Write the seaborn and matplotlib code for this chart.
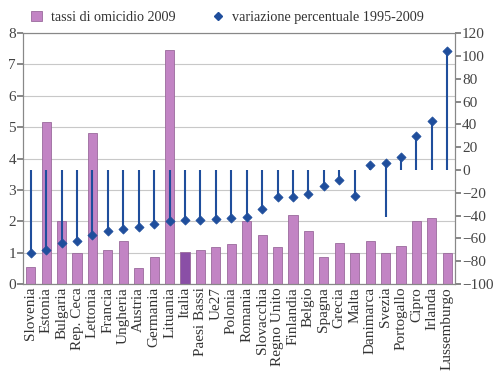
import pandas as pd
import seaborn as sns
import matplotlib.pyplot as plt
from matplotlib.patches import Patch
from matplotlib.lines import Line2D

# Dati
paesi = ["Slovenia", "Estonia", "Bulgaria", "Rep. Ceca", "Lettonia", "Francia",
         "Ungheria", "Austria", "Germania", "Lituania", "Italia", "Paesi Bassi",
         "Ue27", "Polonia", "Romania", "Slovacchia", "Regno Unito", "Finlandia",
         "Belgio", "Spagna", "Grecia", "Malta", "Danimarca", "Svezia",
         "Portogallo", "Cipro", "Irlanda", "Lussemburgo"]
tassi_2009 = [0.55, 5.18, 2.0, 1.0, 4.8, 1.1, 1.38, 0.5, 0.88, 7.45, 1.02, 1.08,
              1.17, 1.27, 2.0, 1.57, 1.18, 2.2, 1.68, 0.87, 1.3, 1.0, 1.38, 1.0,
              1.2, 2.0, 2.1, 1.0]
variazione = [-73, -70, -64, -62, -57, -53, -52, -50, -47, -45, -44, -44,
              -43, -42, -41, -34, -24, -24, -21, -14, -9, -23, 4, 6,
              11, 30, 43, 104]
# origine delle linee verticali (Svezia parte da -41)
origine = [0] * 23 + [-41] + [0] * 4

df = pd.DataFrame({"paese": paesi, "tasso": tassi_2009,
                   "var": variazione, "orig": origine})

col_bar = "#c284c4"
col_italia = "#8a4fa6"
col_blu = "#1f4e9c"

sns.set_theme(style="white")
plt.rcParams["font.family"] = ["Liberation Serif", "DejaVu Serif"]

fig = plt.figure(figsize=(5, 3.84), dpi=100)
ax = fig.add_axes([0.046, 0.26, 0.864, 0.654])

palette = {p: (col_italia if p == "Italia" else col_bar) for p in paesi}
sns.barplot(data=df, x="paese", y="tasso", hue="paese", palette=palette,
            legend=False, width=0.6, edgecolor="#9a6a9c", linewidth=0.6,
            saturation=1, ax=ax, zorder=2)
ax.set_ylim(0, 8)
ax.set_xlim(-0.5, len(paesi) - 0.5)
ax.set_yticks(range(0, 9))
ax.yaxis.grid(True, color="#c8c8c8", linewidth=0.8, zorder=0)
ax.set_axisbelow(True)
ax.set_xlabel("")
ax.set_ylabel("")
ax.tick_params(axis="x", labelrotation=90, labelsize=11, length=0, pad=2)
ax.tick_params(axis="y", labelsize=11, length=4, left=True, direction="out",
               color="#777777", pad=1)
for s in ["left", "bottom", "right", "top"]:
    ax.spines[s].set_color("#888888")
    ax.spines[s].set_linewidth(0.8)
for lab in ax.get_xticklabels():
    lab.set_color("#333333")
for lab in ax.get_yticklabels():
    lab.set_color("#444444")

ax2 = ax.twinx()
ax2.set_ylim(-100, 120)
ax2.set_yticks(range(-100, 121, 20))
ax2.set_yticklabels([str(v).replace("-", "\u2212") for v in range(-100, 121, 20)])
ax2.vlines(range(len(paesi)), df["orig"], df["var"], color=col_blu,
           linewidth=1.5, zorder=3)
sns.scatterplot(x=list(range(len(paesi))), y=df["var"], marker="D", s=22,
                color=col_blu, edgecolor=col_blu, linewidth=0.5, ax=ax2, zorder=4)
ax2.set_ylabel("")
ax2.tick_params(axis="y", labelsize=11, length=4, right=True, direction="out",
                color="#777777", pad=1, labelcolor="#444444")
for s in ["left", "bottom", "right", "top"]:
    ax2.spines[s].set_color("#888888")
    ax2.spines[s].set_linewidth(0.8)

handles = [Patch(facecolor=col_bar, edgecolor="#9a6a9c", linewidth=0.6),
           Line2D([], [], marker="D", color=col_blu, linestyle="none", markersize=4)]
fig.legend(handles, ["tassi di omicidio 2009", "variazione percentuale 1995-2009"],
           loc="center", bbox_to_anchor=(0.455, 0.955), ncol=2, frameon=False,
           fontsize=10.2, handlelength=0.8, handletextpad=0.6, columnspacing=2.6,
           labelcolor="#333333")

fig.savefig("out.png", dpi=100)
